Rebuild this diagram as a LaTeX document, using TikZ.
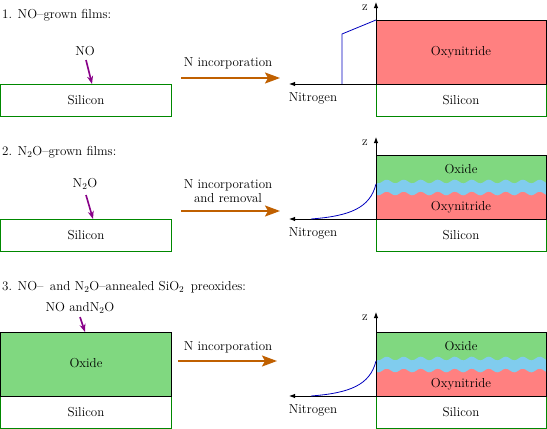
\documentclass[tikz,border=0pt]{standalone}
\usetikzlibrary{arrows.meta}
\definecolor{oxgreen}{RGB}{128,216,128}
\definecolor{oxnred}{RGB}{255,128,128}
\definecolor{wavblue}{RGB}{128,204,238}
\definecolor{bordgreen}{RGB}{0,136,0}
\definecolor{orangearr}{RGB}{192,96,0}
\definecolor{purparr}{RGB}{136,0,136}
\definecolor{curveblue}{RGB}{0,0,190}
\begin{document}
\begin{tikzpicture}[x=1pt,y=-1pt,font=\fontsize{13}{15}\selectfont,
  lbl/.style={inner sep=0pt},
  ttl/.style={inner sep=0pt,anchor=west},
  sibox/.style={draw=bordgreen,line width=1pt,minimum height=32pt,inner sep=0pt},
  blackbox/.style={draw=black,line width=0.9pt},
  axisline/.style={line width=0.9pt,-{Latex[length=6pt,width=4.5pt]}},
  procarrow/.style={orangearr,line width=2pt,-{Stealth[length=15pt,width=11pt,inset=3pt]}},
  gasarrow/.style={purparr,line width=1.6pt,-{Stealth[length=8pt,width=6pt]}},
  profile/.style={curveblue,line width=0.8pt},
]
\useasboundingbox (0,0) rectangle (547,429);

% ---------------- Panel 1 ----------------
\node[ttl] (t1) at (2,15) {1. NO--grown films:};
\node[lbl] (no1) at (85,51) {NO};
\node[sibox,minimum width=171pt] (si1) at (86,100) {Silicon};
\coordinate (g1s) at (86,60);
\coordinate (g1e) at (92,84);
\draw[gasarrow] (g1s) -- (g1e);
\node[lbl] (inc1) at (228,63) {N incorporation};
\coordinate (a1s) at (181,78);
\coordinate (a1e) at (280,78);
\draw[procarrow] (a1s) -- (a1e);

\node[sibox,minimum width=170pt] (sir1) at (461,100) {Silicon};
\fill[oxnred] (376,20) rectangle (546,84);
\draw[blackbox] (376,20) rectangle (546,84);
\node[lbl] (oxn1) at (461,52) {Oxynitride};
\coordinate (o1) at (376,84);
\coordinate (z1) at (376,2);
\coordinate (n1) at (289,84);
\draw[axisline] (o1) -- (z1);
\draw[axisline] (o1) -- (n1);
\node[lbl] (zl1) at (365,8) {z};
\node[lbl] (nl1) at (313,98) {Nitrogen};
\draw[profile] (376,20) -- (342,34) -- (342,84);

% ---------------- Panel 2 ----------------
\node[ttl] (t2) at (2,152) {2. N$_2$O--grown films:};
\node[lbl] (no2) at (85,184) {N$_2$O};
\node[sibox,minimum width=171pt] (si2) at (86,235) {Silicon};
\coordinate (g2s) at (86,195);
\coordinate (g2e) at (93,219);
\draw[gasarrow] (g2s) -- (g2e);
\node[lbl,align=center] (inc2) at (228,191) {N incorporation\\[-1pt]and removal};
\coordinate (a2s) at (181,211);
\coordinate (a2e) at (280,211);
\draw[procarrow] (a2s) -- (a2e);

\node[sibox,minimum width=170pt] (sir2) at (461,235) {Silicon};
\fill[oxgreen] (376,155) rectangle (546,188);
\fill[oxnred] (376,188) rectangle (546,219);
\fill[wavblue] plot[domain=376:546,samples=120] (\x,{181.5+1.8*sin(\x/17*360)})
  -- plot[domain=546:376,samples=120] (\x,{193.5+1.8*sin(\x/17*360)}) -- cycle;
\draw[blackbox] (376,155) rectangle (546,219);
\node[lbl] (ox2) at (461,169) {Oxide};
\node[lbl] (oxn2) at (461,207) {Oxynitride};
\coordinate (o2) at (376,219);
\coordinate (z2) at (376,137);
\coordinate (n2) at (289,219);
\draw[axisline] (o2) -- (z2);
\draw[axisline] (o2) -- (n2);
\node[lbl] (zl2) at (365,143) {z};
\node[lbl] (nl2) at (313,233) {Nitrogen};
\draw[profile] (311,219) .. controls (350,216) and (370,208) .. (376,184);

% ---------------- Panel 3 ----------------
\node[ttl] (t3) at (2,287) {3. NO-- \,and N$_2$O--annealed SiO$_2$ \,preoxides:};
\node[lbl] (no3) at (80,308) {NO andN$_2$O};
\node[sibox,minimum width=171pt] (si3) at (86,412) {Silicon};
\fill[oxgreen] (0.5,332) rectangle (171.5,396);
\draw[blackbox] (0.5,332) rectangle (171.5,396);
\node[lbl] (ox3) at (86,363) {Oxide};
\coordinate (g3s) at (80,317);
\coordinate (g3e) at (85,332);
\draw[gasarrow] (g3s) -- (g3e);
\node[lbl] (inc3) at (228,347) {N incorporation};
\coordinate (a3s) at (178,361);
\coordinate (a3e) at (277,361);
\draw[procarrow] (a3s) -- (a3e);

\node[sibox,minimum width=170pt] (sir3) at (461,412) {Silicon};
\fill[oxgreen] (376,332) rectangle (546,365);
\fill[oxnred] (376,365) rectangle (546,396);
\fill[wavblue] plot[domain=376:546,samples=120] (\x,{358.5+1.8*sin(\x/17*360)})
  -- plot[domain=546:376,samples=120] (\x,{370.5+1.8*sin(\x/17*360)}) -- cycle;
\draw[blackbox] (376,332) rectangle (546,396);
\node[lbl] (ox3r) at (461,346) {Oxide};
\node[lbl] (oxn3) at (461,384) {Oxynitride};
\coordinate (o3) at (376,396);
\coordinate (z3) at (376,312);
\coordinate (n3) at (289,396);
\draw[axisline] (o3) -- (z3);
\draw[axisline] (o3) -- (n3);
\node[lbl] (zl3) at (365,318) {z};
\node[lbl] (nl3) at (313,410) {Nitrogen};
\draw[profile] (311,396) .. controls (350,393) and (370,385) .. (376,361);
\end{tikzpicture}
\end{document}
